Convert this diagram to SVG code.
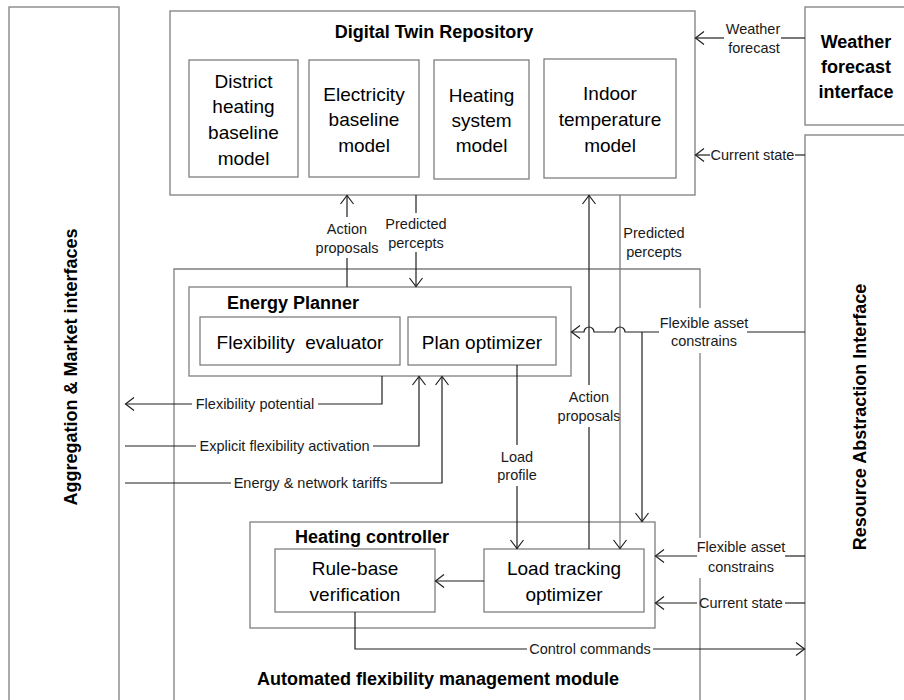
<svg xmlns="http://www.w3.org/2000/svg" width="904" height="700" viewBox="0 0 904 700">
  <style>
    .box { fill: #ffffff; stroke: #7f7f7f; stroke-width: 1.3; }
    .frame { fill: none; stroke: #7f7f7f; stroke-width: 1.3; }
    .wire { fill: none; stroke: #1f1f1f; stroke-width: 1.2; }
    .wire-grey { fill: none; stroke: #7a7a7a; stroke-width: 1.3; }
    .node { font-family: "Liberation Sans", Arial, sans-serif; font-size: 19px; fill: #000; text-anchor: middle; }
    .title { font-family: "Liberation Sans", Arial, sans-serif; font-size: 18px; font-weight: bold; fill: #000; }
    .lbl { font-family: "Liberation Sans", Arial, sans-serif; font-size: 14.5px; fill: #1a1a1a; text-anchor: middle; }
  </style>
  <defs>
    <marker id="arrow" viewBox="-10 -8 12 16" refX="0" refY="0" markerWidth="12" markerHeight="16" markerUnits="userSpaceOnUse" orient="auto">
      <path d="M-8.5,-6.5 L0,0 L-8.5,6.5" fill="none" stroke="#1f1f1f" stroke-width="1.2"/>
    </marker>
  </defs>

  <rect width="904" height="700" fill="#ffffff"/>

  <!-- Side interfaces -->
  <g id="aggregation-market">
    <rect class="box" x="9" y="7" width="110" height="720"/>
    <text class="title" transform="translate(77,367) rotate(-90)" text-anchor="middle">Aggregation &amp; Market interfaces</text>
  </g>
  <g id="weather-interface">
    <rect class="box" x="805" y="7" width="120" height="118"/>
    <text class="title" text-anchor="middle" x="856" y="48">Weather</text>
    <text class="title" text-anchor="middle" x="856" y="73">forecast</text>
    <text class="title" text-anchor="middle" x="856" y="98">interface</text>
  </g>
  <g id="resource-abstraction">
    <rect class="box" x="805" y="135" width="120" height="600"/>
    <text class="title" transform="translate(866,417) rotate(-90)" text-anchor="middle">Resource Abstraction Interface</text>
  </g>

  <!-- Digital twin repository -->
  <g id="digital-twin">
    <rect class="box" x="170" y="11" width="525" height="184"/>
    <text class="title" text-anchor="middle" x="434" y="38">Digital Twin Repository</text>
  </g>
  <g id="district-heating-model">
    <rect class="box" x="189" y="60" width="109" height="117"/>
    <text class="node" x="243.5" y="88">District</text>
    <text class="node" x="243.5" y="113">heating</text>
    <text class="node" x="243.5" y="139">baseline</text>
    <text class="node" x="243.5" y="165">model</text>
  </g>
  <g id="electricity-model">
    <rect class="box" x="309" y="60" width="110" height="117"/>
    <text class="node" x="364" y="101">Electricity</text>
    <text class="node" x="364" y="126">baseline</text>
    <text class="node" x="364" y="152">model</text>
  </g>
  <g id="heating-system-model">
    <rect class="box" x="434" y="60" width="95" height="119"/>
    <text class="node" x="481.5" y="102">Heating</text>
    <text class="node" x="481.5" y="127">system</text>
    <text class="node" x="481.5" y="152">model</text>
  </g>
  <g id="indoor-temperature-model">
    <rect class="box" x="544" y="59" width="132" height="119"/>
    <text class="node" x="610" y="100">Indoor</text>
    <text class="node" x="610" y="126">temperature</text>
    <text class="node" x="610" y="152">model</text>
  </g>

  <!-- Automated flexibility management module -->
  <g id="flexibility-module">
    <path class="frame" d="M174,720 L174,269 L700,269 L700,308 M700,353 L700,538 M700,578 L700,720"/>
    <text class="title" text-anchor="middle" x="438" y="685">Automated flexibility management module</text>
  </g>

  <g id="energy-planner">
    <rect class="box" x="189" y="287" width="382" height="89"/>
    <text class="title" x="227" y="309">Energy Planner</text>
  </g>
  <g id="flexibility-evaluator">
    <rect class="box" x="200" y="317" width="200" height="48"/>
    <text class="node" x="300" y="349" xml:space="preserve">Flexibility  evaluator</text>
  </g>
  <g id="plan-optimizer">
    <rect class="box" x="408" y="317" width="148" height="48"/>
    <text class="node" x="482" y="349">Plan optimizer</text>
  </g>

  <g id="heating-controller">
    <rect class="box" x="250" y="522" width="405" height="106"/>
    <text class="title" x="295" y="543">Heating controller</text>
  </g>
  <g id="rule-base-verification">
    <rect class="box" x="275" y="549" width="160" height="63"/>
    <text class="node" x="355" y="575">Rule-base</text>
    <text class="node" x="355" y="601">verification</text>
  </g>
  <g id="load-tracking-optimizer">
    <rect class="box" x="484" y="549" width="160" height="63"/>
    <text class="node" x="564" y="575">Load tracking</text>
    <text class="node" x="564" y="601">optimizer</text>
  </g>

  <!-- Connectors -->
  <g id="connectors">
    <!-- weather forecast into the repository -->
    <path class="wire" d="M805,38 L781,38"/>
    <path class="wire" d="M724,38 L695.5,38" marker-end="url(#arrow)"/>
    <text class="lbl" x="753" y="34">Weather</text>
    <text class="lbl" x="754" y="53">forecast</text>

    <!-- current state into the repository -->
    <path class="wire" d="M805,155 L795,155"/>
    <path class="wire" d="M710,155 L695.5,155" marker-end="url(#arrow)"/>
    <text class="lbl" x="752.5" y="160">Current state</text>

    <!-- planner <-> repository -->
    <path class="wire" d="M347,287 L347,258"/>
    <path class="wire" d="M347,217 L347,195.5" marker-end="url(#arrow)"/>
    <text class="lbl" x="347" y="234">Action</text>
    <text class="lbl" x="347" y="253">proposals</text>

    <path class="wire" d="M416,195 L416,213"/>
    <path class="wire" d="M416,252 L416,286.5" marker-end="url(#arrow)"/>
    <text class="lbl" x="416" y="229">Predicted</text>
    <text class="lbl" x="416" y="248">percepts</text>

    <!-- controller <-> repository -->
    <path class="wire" d="M589,549 L589,427"/>
    <path class="wire" d="M589,385 L589,195.5" marker-end="url(#arrow)"/>
    <text class="lbl" x="589" y="402">Action</text>
    <text class="lbl" x="589" y="421">proposals</text>

    <path class="wire-grey" d="M620,195 L620,548.5" marker-end="url(#arrow)"/>
    <text class="lbl" x="654" y="238">Predicted</text>
    <text class="lbl" x="654" y="257">percepts</text>

    <!-- flexible asset constraints into the planner, hopping over the vertical wires -->
    <path class="wire" d="M805,332 L747,332"/>
    <path class="wire" d="M659,332 L625,332 A5,5 0 0 0 615,332 L594,332 A5,5 0 0 0 584,332 L571.5,332" marker-end="url(#arrow)"/>
    <path class="wire" d="M642,332 L642,521.5" marker-end="url(#arrow)"/>
    <text class="lbl" x="704" y="328">Flexible asset</text>
    <text class="lbl" x="704" y="346">constrains</text>

    <!-- flexible asset constraints into the controller -->
    <path class="wire" d="M805,556 L785,556"/>
    <path class="wire" d="M697,556 L655.5,556" marker-end="url(#arrow)"/>
    <text class="lbl" x="741" y="552">Flexible asset</text>
    <text class="lbl" x="741" y="572">constrains</text>

    <!-- current state into the controller -->
    <path class="wire" d="M805,603 L785,603"/>
    <path class="wire" d="M697,603 L655.5,603" marker-end="url(#arrow)"/>
    <text class="lbl" x="741" y="608">Current state</text>

    <!-- load profile -->
    <path class="wire" d="M517,365 L517,445"/>
    <path class="wire" d="M517,486 L517,548.5" marker-end="url(#arrow)"/>
    <text class="lbl" x="517" y="462">Load</text>
    <text class="lbl" x="517" y="480">profile</text>

    <!-- optimizer to verification -->
    <path class="wire" d="M484,581 L435.5,581" marker-end="url(#arrow)"/>

    <!-- control commands -->
    <path class="wire" d="M355,612 L355,649 L527,649"/>
    <path class="wire" d="M653,649 L804.5,649" marker-end="url(#arrow)"/>
    <text class="lbl" x="590" y="654">Control commands</text>

    <!-- market side -->
    <path class="wire" d="M382,376 L382,404 L318,404"/>
    <path class="wire" d="M192,404 L125.5,404" marker-end="url(#arrow)"/>
    <text class="lbl" x="255" y="409">Flexibility potential</text>

    <path class="wire" d="M125,446 L196,446"/>
    <path class="wire" d="M373,446 L419,446 L419,376.5" marker-end="url(#arrow)"/>
    <text class="lbl" x="284.5" y="451">Explicit flexibility activation</text>

    <path class="wire" d="M125,483 L231,483"/>
    <path class="wire" d="M390,483 L442,483 L442,376.5" marker-end="url(#arrow)"/>
    <text class="lbl" x="310.5" y="488">Energy &amp; network tariffs</text>
  </g>
</svg>
